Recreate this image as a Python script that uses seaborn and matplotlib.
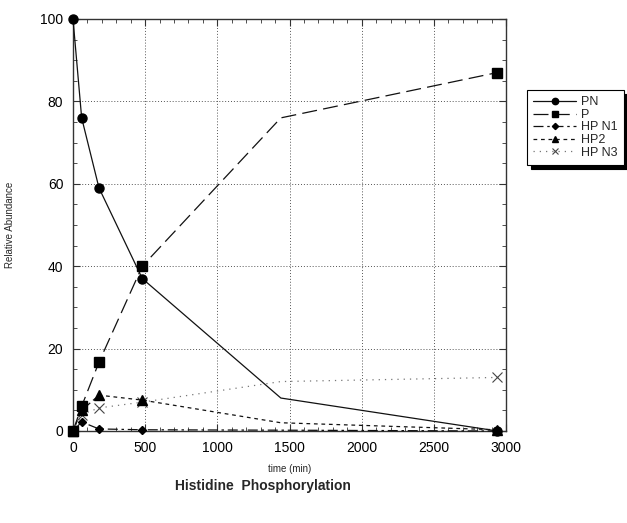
import matplotlib
matplotlib.use("Agg")
import matplotlib.pyplot as plt
import seaborn as sns
import pandas as pd
from matplotlib.ticker import MultipleLocator

# ---- data ----
time_min = [0, 60, 180, 480, 1440, 2940]
pn = [100, 76, 59, 37, 8, 0]
p = [0, 6, 16.7, 40, 76, 87]
hp_n1 = [0, 2.2, 0.5, 0.3, 0.2, 0]
hp2 = [0, 5, 8.7, 7.5, 2, 0.3]
hp_n3 = [0, 4, 5.6, 7, 12, 13]
series_names = ["PN", "P", "HP N1", "HP2", "HP N3"]
marked_idx = [0, 1, 2, 3, 5]

sns.set_style("ticks")
plt.rcParams["font.family"] = ["Liberation Sans", "DejaVu Sans"]

fig = plt.figure(figsize=(6.27, 5.23), dpi=100)
ax = fig.add_axes([73 / 627, 1 - 431 / 523, (506 - 73) / 627, (431 - 19) / 523])

styles = {
    "PN": dict(marker="o", dashes=(None, None), color="#111111", ms=6.5, z=4),
    "P": dict(marker="s", dashes=(12, 5), color="#111111", ms=6.5, z=5),
    "HP N1": dict(marker="D", dashes=(8, 3, 2, 3), color="#111111", ms=4.5, z=3),
    "HP2": dict(marker="^", dashes=(3, 3), color="#111111", ms=6.5, z=3),
    "HP N3": dict(marker="x", dashes=(1, 4), color="#777777", ms=7, z=2),
}
values = {"PN": pn, "P": p, "HP N1": hp_n1, "HP2": hp2, "HP N3": hp_n3}

for name in series_names:
    df = pd.DataFrame({"t": time_min, "v": values[name]})
    st = styles[name]
    sns.lineplot(data=df, x="t", y="v", ax=ax, color=st["color"], lw=0.9,
                 marker=st["marker"], markersize=st["ms"], markevery=marked_idx,
                 markeredgecolor="black", markerfacecolor="black",
                 markeredgewidth=1.0 if name != "HP N3" else 0.8,
                 label=name, clip_on=False, zorder=st["z"])
    line = ax.lines[-1]
    if st["dashes"][0] is not None:
        line.set_dashes(st["dashes"])
    if name == "HP N3":
        line.set_markeredgecolor("#444444")

ax.set_xlim(0, 3000)
ax.set_ylim(0, 100)
ax.xaxis.set_major_locator(MultipleLocator(500))
ax.xaxis.set_minor_locator(MultipleLocator(100))
ax.yaxis.set_major_locator(MultipleLocator(20))
ax.yaxis.set_minor_locator(MultipleLocator(5))
ax.tick_params(which="both", direction="in", top=True, right=True, labelsize=10,
               color="#333333", pad=7)
ax.tick_params(which="major", length=5)
ax.tick_params(which="minor", length=3)
ax.grid(True, which="major", color="#555555", linestyle=(0, (1, 2)), lw=0.7)
for s in ax.spines.values():
    s.set_color("#333333")
    s.set_linewidth(1.0)

for lab in ax.get_xticklabels() + ax.get_yticklabels():
    lab.set_color("black")

ax.set_xlabel("time (min)", fontsize=7, labelpad=7)
ax.set_ylabel("Relative Abundance", fontsize=7, labelpad=18)

leg = ax.legend(loc="upper left", bbox_to_anchor=(527 / 627, 1 - 90 / 523),
                bbox_transform=fig.transFigure, fontsize=9, frameon=True,
                fancybox=False, edgecolor="black", handlelength=3.4,
                handletextpad=0.4, labelspacing=0.05, borderpad=0.5,
                borderaxespad=0.0, markerscale=0.7,
                shadow={"color": "black", "alpha": 1.0, "ox": 3, "oy": -3})
leg.get_frame().set_linewidth(0.8)

fig.text(263 / 627, 1 - 486 / 523, "Histidine  Phosphorylation", ha="center", va="center",
         fontsize=10, fontweight="bold")

fig.savefig("out.png", dpi=100)
